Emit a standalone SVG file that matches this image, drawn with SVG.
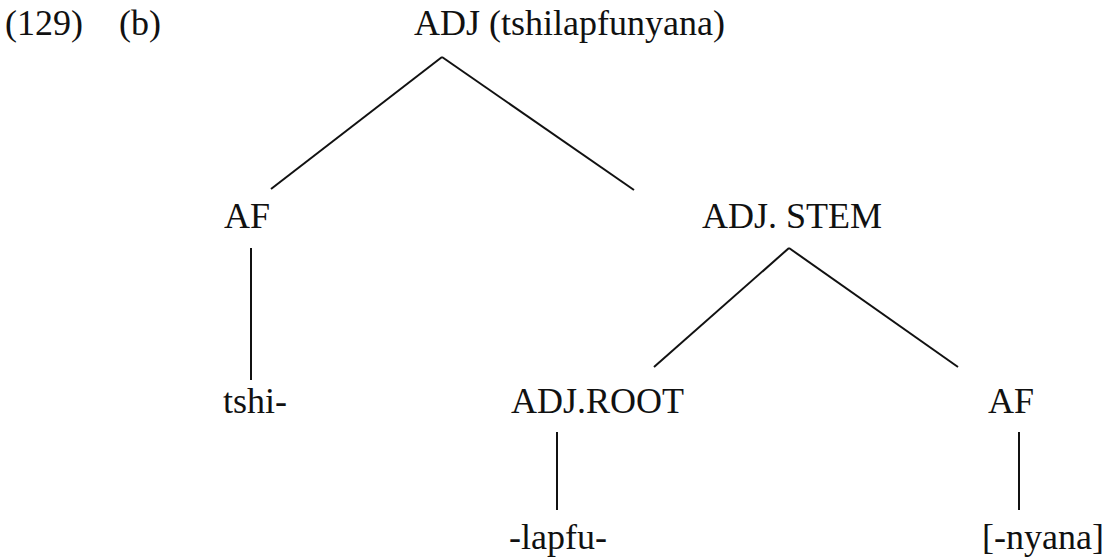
<svg xmlns="http://www.w3.org/2000/svg" width="1118" height="557" viewBox="0 0 1118 557">
<style>
text{font-family:"Liberation Serif","Times New Roman",serif;font-size:36px;fill:#111}
.e{stroke:#111;stroke-width:2;fill:none}
</style>
<rect width="1118" height="557" fill="#fff"/>
<g id="connectors">
<line class="e" x1="442" y1="57" x2="271" y2="189"/>
<line class="e" x1="442" y1="57" x2="634" y2="190"/>
<line class="e" x1="789" y1="248" x2="654" y2="367"/>
<line class="e" x1="789" y1="248" x2="958" y2="367"/>
<line class="e" x1="251" y1="248" x2="251" y2="380"/>
<line class="e" x1="557" y1="432" x2="557" y2="510"/>
<line class="e" x1="1019" y1="432" x2="1019" y2="510"/>
</g>
<g id="label-num"><text x="5" y="35">(129)</text></g>
<g id="label-b"><text x="119" y="35">(b)</text></g>
<g id="n-adj"><text x="414" y="35">ADJ (tshilapfunyana)</text></g>
<g id="n-af1"><text x="224" y="228">AF</text></g>
<g id="n-stem"><text x="702" y="228">ADJ. STEM</text></g>
<g id="n-tshi"><text x="223" y="413">tshi-</text></g>
<g id="n-root"><text x="511" y="413">ADJ.ROOT</text></g>
<g id="n-af2"><text x="988" y="413">AF</text></g>
<g id="n-lapfu"><text x="509" y="549">-lapfu-</text></g>
<g id="n-nyana"><text x="982" y="549">[-nyana]</text></g>
</svg>
